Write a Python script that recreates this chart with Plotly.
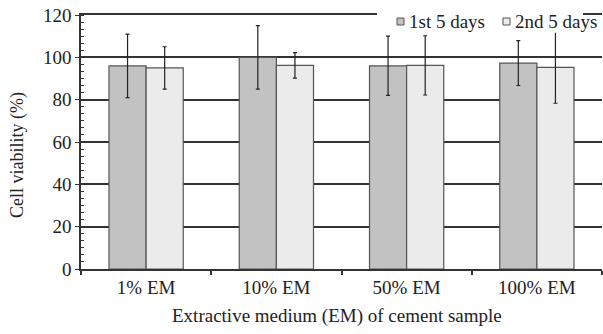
import plotly.graph_objects as go

categories = ["1% EM", "10% EM", "50% EM", "100% EM"]
first_5_days = [96, 100, 96, 97.3]
second_5_days = [95, 96.2, 96.2, 95.3]
err_first = [15, 15, 14, 10.6]
err_second = [10, 6, 14, 17]
series_names = ["1st 5 days", "2nd 5 days"]
y_ticks = [0, 20, 40, 60, 80, 100, 120]

FONT = "Liberation Serif, Times New Roman, DejaVu Serif, serif"
DARK = "#c2c2c2"
LIGHT = "#ebebeb"
EDGE = "#555555"
INK = "#333333"

fig = go.Figure()
for vals, errs, fill, name in [(first_5_days, err_first, DARK, series_names[0]),
                               (second_5_days, err_second, LIGHT, series_names[1])]:
    fig.add_trace(go.Bar(
        x=categories, y=vals, name=name, showlegend=False,
        marker=dict(color=fill, line=dict(color=EDGE, width=1.2)),
        error_y=dict(type="data", array=errs, visible=True, color="#222222",
                     thickness=1.2, width=2),
    ))

fig.update_layout(
    width=603, height=334,
    margin=dict(l=81, r=1, t=15, b=65),
    paper_bgcolor="white", plot_bgcolor="white",
    barmode="group", bargap=0.43, bargroupgap=0,
    font=dict(family=FONT, size=17, color="#222222"),
    showlegend=False,
)
fig.update_yaxes(
    range=[0, 120], tickvals=y_ticks, ticktext=[str(v) for v in y_ticks],
    showgrid=True, gridcolor=INK, gridwidth=1.5, zeroline=False,
    showline=True, linecolor=INK, linewidth=1.5,
    ticks="outside", ticklen=4, tickcolor=INK, tickwidth=1.2,
    minor=dict(ticks="inside", ticklen=3, tickcolor=INK, dtick=10/3, showgrid=False),
    tickfont=dict(family=FONT, size=19, color="#222222"),
)
fig.update_xaxes(
    type="category", showgrid=False,
    showline=True, mirror=True, linecolor=INK, linewidth=1.5,
    ticks="outside", tickson="boundaries", ticklen=4, tickcolor=INK, tickwidth=1.5,
    tickfont=dict(family=FONT, size=19, color="#222222"),
)

# Axis titles
fig.add_annotation(text="Extractive medium (EM) of cement sample", xref="paper", yref="paper",
                   x=0.491, y=-0.185, showarrow=False, font=dict(family=FONT, size=19),
                   xanchor="center", yanchor="middle")
fig.add_annotation(text="Cell viability (%)", xref="paper", yref="paper",
                   x=-0.121, y=0.449, showarrow=False, textangle=-90,
                   font=dict(family=FONT, size=18),
                   xanchor="center", yanchor="middle")

# Legend (white box interrupting the top border, small square swatches)
fig.add_shape(type="rect", xref="paper", yref="paper", layer="above",
              x0=(377 - 81) / 521, x1=(583 - 81) / 521, y0=0.93, y1=1.03,
              fillcolor="white", line=dict(width=0))
for (cx, fill, name) in [(400.5, DARK, series_names[0]), (506.5, LIGHT, series_names[1])]:
    fig.add_shape(type="rect", xref="paper", yref="paper", layer="above",
                  x0=(cx - 3.5 - 81) / 521, x1=(cx + 3.5 - 81) / 521,
                  y0=(269 - 25) / 254, y1=(269 - 18) / 254,
                  fillcolor=fill, line=dict(color=EDGE, width=1))
    fig.add_annotation(text=name, xref="paper", yref="paper",
                       x=(cx + 6 - 81) / 521, y=(269 - 22) / 254, showarrow=False,
                       xanchor="left", yanchor="middle", font=dict(family=FONT, size=19))

fig.write_html("out.html", config={"displayModeBar": False},
               post_script="document.body.style.margin='0';")
